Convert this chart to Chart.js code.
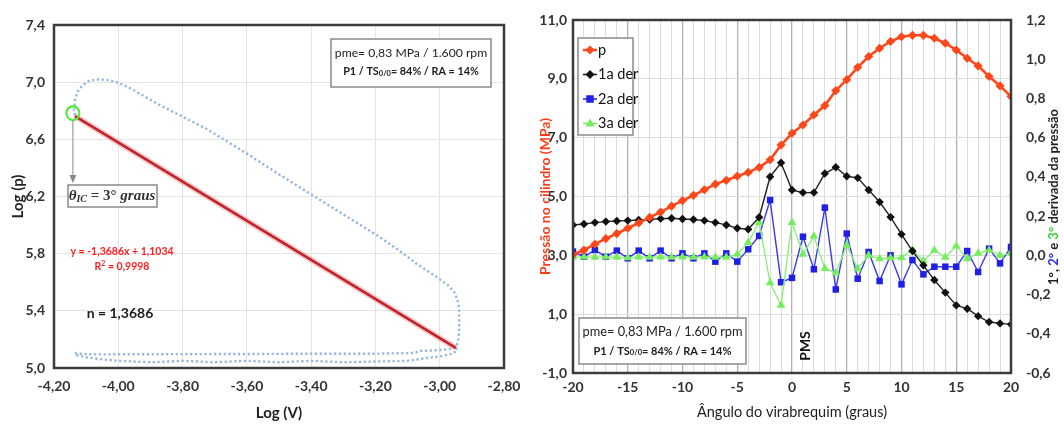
<!DOCTYPE html>
<html>
<head>
<meta charset="utf-8">
<script src="https://cdn.jsdelivr.net/npm/chart.js@4.4.1/dist/chart.umd.min.js"></script>
<style>
  html, body { margin: 0; padding: 0; background: #fff; }
  #wrap { position: relative; width: 1064px; height: 425px; }
  #left { position: absolute; left: 0; top: 0; }
  #right { position: absolute; left: 530px; top: 0; }
</style>
</head>
<body>
<div id="wrap">
  <canvas id="left" width="530" height="425"></canvas>
  <canvas id="right" width="534" height="425"></canvas>
</div>
<script>
// ---- left panel: log p x log V loop ----
const loopLogV = [-2.95, -3.3, -3.7, -4.1, -4.135,
  -4.137, -4.135, -4.128, -4.112, -4.092, -4.067, -4.036, -4.005, -3.969, -3.928, -3.877, -3.826, -3.774, -3.723,
  -3.6, -3.5, -3.4, -3.3, -3.196, -3.134, -3.072, -3.01, -2.974, -2.955, -2.945, -2.94, -2.939, -2.94, -2.943, -2.948,
  -2.96, -3.0, -3.06, -3.08, -3.2, -3.4, -3.6, -3.8, -4.0, -4.08, -4.12, -4.135,
  -4.13, -4.1, -4.05, -4.0, -3.9, -3.8, -3.7, -3.6, -3.5, -3.4, -3.3, -3.2, -3.1, -3.04, -3.0, -2.96, -2.945, -2.95];
const loopLogP = [5.142, 5.62, 6.17, 6.715, 6.765,
  6.80, 6.87, 6.93, 6.976, 7.007, 7.019, 7.016, 7.0, 6.965, 6.913, 6.847, 6.788, 6.729, 6.67,
  6.50, 6.355, 6.215, 6.075, 5.93, 5.835, 5.73, 5.637, 5.58, 5.53, 5.48, 5.42, 5.335, 5.25, 5.19, 5.15,
  5.135, 5.125, 5.12, 5.105, 5.10, 5.10, 5.098, 5.097, 5.096, 5.095, 5.10, 5.105,
  5.09, 5.075, 5.06, 5.05, 5.04, 5.05, 5.04, 5.05, 5.04, 5.05, 5.04, 5.045, 5.05, 5.07, 5.08, 5.10, 5.125, 5.142];
// linear fit of the compression (y = -1,3686x + 1,1034)
const fitLogV = [-4.135, -2.95];
const fitLogP = [6.762, 5.141];

// ---- right panel: pressure and derivatives x crank angle ----
const angles = [-20, -19, -18, -17, -16, -15, -14, -13, -12, -11, -10, -9, -8, -7, -6, -5, -4, -3, -2, -1, 0,
  1, 2, 3, 4, 5, 6, 7, 8, 9, 10, 11, 12, 13, 14, 15, 16, 17, 18, 19, 20];
const pressure = [3.02, 3.18, 3.38, 3.57, 3.74, 3.92, 4.10, 4.29, 4.47, 4.67, 4.86, 5.04, 5.23, 5.42, 5.55, 5.69, 5.82, 5.99, 6.25, 6.75, 7.15,
  7.43, 7.77, 8.09, 8.60, 8.97, 9.39, 9.76, 10.04, 10.27, 10.43, 10.48, 10.48, 10.38, 10.21, 9.98, 9.70, 9.44, 9.08, 8.76, 8.40];
const der1 = [0.155, 0.160, 0.167, 0.172, 0.175, 0.177, 0.180, 0.183, 0.187, 0.189, 0.185, 0.183, 0.177, 0.167, 0.155, 0.138, 0.133, 0.194, 0.401, 0.472, 0.333,
  0.320, 0.320, 0.417, 0.449, 0.403, 0.395, 0.333, 0.272, 0.195, 0.107, 0.022, -0.051, -0.126, -0.190, -0.255, -0.272, -0.310, -0.340, -0.347, -0.352];
const der2 = [0.019, -0.007, 0.027, -0.007, 0.024, -0.015, 0.024, -0.015, 0.024, -0.015, 0.010, -0.015, 0.010, -0.032, 0.010, -0.032, 0.031, 0.099, 0.282, -0.137, -0.115,
  0.095, -0.071, 0.243, -0.174, 0.111, -0.119, 0.017, -0.131, 0.000, -0.148, -0.024, -0.097, -0.058, -0.058, -0.058, 0.022, -0.085, 0.034, -0.041, 0.043];
const der3 = [-0.010, -0.008, -0.010, -0.008, -0.010, -0.012, -0.008, -0.010, -0.008, -0.010, -0.008, -0.010, -0.008, -0.010, -0.010, 0.005, 0.065, 0.168, -0.140, -0.255, 0.167,
  0.005, 0.097, -0.067, -0.089, 0.051, -0.068, 0.000, -0.017, -0.012, -0.012, 0.029, -0.029, 0.026, -0.010, 0.048, -0.018, 0.010, 0.026, 0.000, 0.010];

const seriesNames = ['p', '1a der', '2a der', '3a der'];
const seriesColors = ['#ff4719', '#111111', '#1f1fe6', '#74ec5e'];

const TICK_FONT = { family: 'Lato', size: 14, weight: 'bold' };
const comma = (v, d) => (Math.abs(v) < 1e-9 ? 0 : v).toFixed(d).replace('.', ',');
const xy = (xs, ys) => xs.map((x, i) => ({ x: x, y: ys[i] }));

function drawParts(ctx, parts, cx, cy) {
  let w = 0;
  parts.forEach(p => { ctx.font = p.font; w += ctx.measureText(p.text).width; });
  let x = cx - w / 2;
  ctx.textAlign = 'left';
  ctx.textBaseline = 'middle';
  parts.forEach(p => {
    ctx.font = p.font;
    ctx.fillStyle = p.color || '#111';
    ctx.fillText(p.text, x, cy + (p.dy || 0));
    x += ctx.measureText(p.text).width;
  });
}

function infoBox(ctx, x, y, w, h, size, size2) {
  ctx.fillStyle = '#fff';
  ctx.fillRect(x, y, w, h);
  ctx.strokeStyle = '#8a8a8a';
  ctx.lineWidth = 1.5;
  ctx.strokeRect(x, y, w, h);
  const cx = x + w / 2;
  drawParts(ctx, [{ text: 'pme= 0,83 MPa / 1.600 rpm', font: size + 'px Lato', color: '#222' }], cx, y + 14);
  drawParts(ctx, [
    { text: 'P1 / TS', font: 'bold ' + size2 + 'px Lato', color: '#222' },
    { text: '0/0', font: 'bold 7.5px Lato', dy: 2, color: '#222' },
    { text: '= 84% / RA = 14%', font: 'bold ' + size2 + 'px Lato', color: '#222' }
  ], cx, y + 33);
}

function marker(ctx, style, x, y, r) {
  ctx.beginPath();
  if (style === 'rectRot') {
    ctx.moveTo(x, y - r); ctx.lineTo(x + r, y); ctx.lineTo(x, y + r); ctx.lineTo(x - r, y);
  } else if (style === 'rect') {
    ctx.rect(x - r * 0.75, y - r * 0.75, r * 1.5, r * 1.5);
  } else {
    ctx.moveTo(x, y - r); ctx.lineTo(x + r * 0.9, y + r * 0.6); ctx.lineTo(x - r * 0.9, y + r * 0.6);
  }
  ctx.closePath();
  ctx.fill();
}

// ---------------- left chart ----------------
const leftExtras = {
  id: 'leftExtras',
  afterDraw(chart) {
    const { ctx, chartArea: a, scales } = chart;
    ctx.save();
    ctx.strokeStyle = '#3c3c3c';
    ctx.lineWidth = 2.5;
    ctx.strokeRect(a.left, a.top, a.right - a.left, a.bottom - a.top);

    infoBox(ctx, 331, 39, 160, 48, 12.2, 10.8);

    // ignition point marker and arrow
    const gx = scales.x.getPixelForValue(fitLogV[0]);
    const gy = scales.y.getPixelForValue(fitLogP[0]);
    ctx.strokeStyle = '#45ee2a';
    ctx.lineWidth = 2;
    ctx.beginPath();
    ctx.ellipse(gx - 2, gy - 3, 6.5, 7, 0, 0, Math.PI * 2);
    ctx.stroke();
    ctx.strokeStyle = '#8a8a8a';
    ctx.fillStyle = '#8a8a8a';
    ctx.lineWidth = 1;
    ctx.beginPath();
    ctx.moveTo(gx - 2, gy + 4);
    ctx.lineTo(gx - 2, 180);
    ctx.stroke();
    ctx.beginPath();
    ctx.moveTo(gx - 2, 183); ctx.lineTo(gx - 5.5, 175); ctx.lineTo(gx + 1.5, 175);
    ctx.closePath();
    ctx.fill();

    ctx.fillStyle = '#fff';
    ctx.fillRect(68, 185, 89, 22);
    ctx.strokeStyle = '#8a8a8a';
    ctx.lineWidth = 1.5;
    ctx.strokeRect(68, 185, 89, 22);
    drawParts(ctx, [
      { text: 'θ', font: 'italic bold 15px "Liberation Serif"', color: '#333' },
      { text: 'IC', font: 'italic bold 10px "Liberation Serif"', dy: 3, color: '#333' },
      { text: ' = 3° ', font: 'bold 15px "Liberation Serif"', color: '#333' },
      { text: 'graus', font: 'italic bold 15px "Liberation Serif"', color: '#333' }
    ], 112, 196);

    drawParts(ctx, [{ text: 'y = -1,3686x + 1,1034', font: 'bold 10.5px Lato', color: '#ff1f1f' }], 122, 252);
    drawParts(ctx, [
      { text: 'R', font: 'bold 10.5px Lato', color: '#ff1f1f' },
      { text: '2', font: 'bold 7px Lato', dy: -3, color: '#ff1f1f' },
      { text: ' = 0,9998', font: 'bold 10.5px Lato', color: '#ff1f1f' }
    ], 122, 267);
    drawParts(ctx, [{ text: 'n = 1,3686', font: 'bold 14px Lato', color: '#1a1a1a' }], 120, 313);
    ctx.restore();
  }
};

new Chart(document.getElementById('left'), {
  type: 'scatter',
  data: {
    datasets: [
      {
        data: xy(fitLogV, fitLogP),
        showLine: true,
        borderColor: '#c4232b',
        borderWidth: 2.6,
        pointRadius: 0
      },
      {
        data: xy(fitLogV, fitLogP),
        showLine: true,
        borderColor: 'rgba(230, 110, 110, 0.35)',
        borderWidth: 6,
        pointRadius: 0
      },
      {
        data: xy(loopLogV, loopLogP),
        showLine: true,
        borderColor: '#94b6e2',
        borderWidth: 2.4,
        borderDash: [2.2, 2.6],
        pointRadius: 0,
        tension: 0
      }
    ]
  },
  options: {
    responsive: false,
    animation: false,
    events: [],
    layout: { padding: { top: 25, right: 26, left: 0, bottom: 0 } },
    plugins: { legend: { display: false }, tooltip: { enabled: false } },
    scales: {
      x: {
        type: 'linear',
        min: -4.2, max: -2.8,
        border: { display: false },
        grid: { color: '#e4e4e4', drawTicks: false },
        ticks: { stepSize: 0.2, padding: 10, color: '#333', font: TICK_FONT, maxRotation: 0,
          callback: v => comma(v, 2) },
        title: { display: true, text: 'Log (V)', color: '#222',
          font: { family: 'Lato', size: 15, weight: 'bold' }, padding: { top: 0, bottom: 3 } },
        afterFit(s) { s.height = 57; s.paddingLeft = 0; s.paddingRight = 0; }
      },
      y: {
        min: 5.0, max: 7.4,
        border: { display: false },
        grid: { color: '#e4e4e4', drawTicks: false },
        ticks: { stepSize: 0.4, padding: 9, color: '#333', font: TICK_FONT,
          callback: v => comma(v, 1) },
        title: { display: true, text: 'Log (p)', color: '#222',
          font: { family: 'Lato', size: 15, weight: 'bold' }, padding: { top: 9, bottom: 0 } },
        afterFit(s) { s.width = 54; s.paddingTop = 0; s.paddingBottom = 0; }
      }
    }
  },
  plugins: [leftExtras]
});

// ---------------- right chart ----------------
const pointStyles = ['rectRot', 'rectRot', 'rect', 'triangle'];

const rightExtras = {
  id: 'rightExtras',
  afterDraw(chart) {
    const { ctx, chartArea: a } = chart;
    ctx.save();
    ctx.strokeStyle = '#3c3c3c';
    ctx.lineWidth = 2.5;
    ctx.strokeRect(a.left, a.top, a.right - a.left, a.bottom - a.top);

    // legend
    ctx.fillStyle = '#fff';
    ctx.fillRect(48, 38, 55, 97);
    ctx.strokeStyle = '#8a8a8a';
    ctx.lineWidth = 1.5;
    ctx.strokeRect(48, 38, 55, 97);
    seriesNames.forEach((name, i) => {
      const y = 50 + i * 24.5;
      ctx.strokeStyle = seriesColors[i];
      ctx.lineWidth = i === 0 ? 2.5 : 1.5;
      ctx.beginPath();
      ctx.moveTo(53, y); ctx.lineTo(67, y);
      ctx.stroke();
      ctx.fillStyle = seriesColors[i];
      marker(ctx, pointStyles[i], 60, y, i < 2 ? 4.5 : 5);
      ctx.font = '14.5px Lato';
      drawParts(ctx, [{ text: name, font: '14.5px Lato', color: '#111' }], 68 + ctx.measureText(name).width / 2, y);
    });

    infoBox(ctx, 49, 318, 167, 46, 12.8, 11);

    // PMS mark
    ctx.translate(275, 346);
    ctx.rotate(-Math.PI / 2);
    drawParts(ctx, [{ text: 'PMS', font: 'bold 14px Lato', color: '#111' }], 0, 0);
    ctx.setTransform(1, 0, 0, 1, 0, 0);

    // right axis title in several colours
    ctx.translate(524, 197);
    ctx.rotate(-Math.PI / 2);
    const f = 'bold 13px Lato';
    drawParts(ctx, [
      { text: '1°, ', font: f, color: '#222' },
      { text: '2°', font: f, color: '#2a2ae0' },
      { text: ' e ', font: f, color: '#222' },
      { text: '3°', font: f, color: '#3ccf3c' },
      { text: ' derivada da pressão', font: f, color: '#222' }
    ], 0, 0);
    ctx.restore();
  }
};

const derivSets = [der1, der2, der3].map((vals, k) => {
  const i = k + 1;
  return {
    label: seriesNames[i],
    data: vals,
    yAxisID: 'y2',
    borderColor: i === 3 ? '#8ef07e' : (i === 2 ? '#3a3ae8' : '#222'),
    backgroundColor: seriesColors[i],
    borderWidth: 1.4,
    pointStyle: pointStyles[i],
    pointRadius: i === 3 ? 5 : (i === 2 ? 4.6 : 4.2),
    pointBorderWidth: 0,
    tension: 0
  };
});

new Chart(document.getElementById('right'), {
  type: 'line',
  data: {
    labels: angles,
    datasets: [
      {
        label: seriesNames[0],
        data: pressure,
        yAxisID: 'y',
        borderColor: seriesColors[0],
        backgroundColor: seriesColors[0],
        borderWidth: 2.6,
        pointStyle: 'rectRot',
        pointRadius: 4.6,
        pointBorderWidth: 0
      },
      derivSets[0], derivSets[2], derivSets[1]
    ].map(d => Object.assign(d, { data: d.data.map((v, j) => ({ x: angles[j], y: v })) }))
  },
  options: {
    responsive: false,
    animation: false,
    events: [],
    layout: { padding: { top: 20, right: 0, left: 0, bottom: 0 } },
    plugins: { legend: { display: false }, tooltip: { enabled: false } },
    scales: {
      x: {
        type: 'linear',
        min: -20, max: 20,
        border: { display: false },
        grid: {
          drawTicks: false,
          color: c => (c.tick && c.tick.value % 5 === 0) ? '#b2b2b2' : '#dcdcdc',
          lineWidth: c => (c.tick && c.tick.value % 5 === 0) ? 1.3 : 1
        },
        ticks: { stepSize: 1, autoSkip: false, maxRotation: 0, padding: 6, color: '#333', font: TICK_FONT,
          callback: v => (v % 5 === 0 ? String(v) : '') },
        title: { display: true, text: 'Ângulo do virabrequim (graus)', color: '#222',
          font: { family: 'Lato', size: 14.5 }, padding: { top: 0, bottom: 4 } },
        afterFit(s) { s.height = 52; s.paddingLeft = 0; s.paddingRight = 0; }
      },
      y: {
        position: 'left',
        min: -1, max: 11,
        border: { display: false },
        grid: { color: '#dedede', drawTicks: false },
        ticks: { stepSize: 2, padding: 6, color: '#333', font: TICK_FONT,
          callback: v => comma(v, 1) },
        title: { display: true, text: 'Pressão no cilindro (MPa)', color: '#ff3d1a',
          font: { family: 'Lato', size: 14, weight: 'bold' }, padding: { top: 7, bottom: 0 } },
        afterFit(s) { s.width = 43; s.paddingTop = 0; s.paddingBottom = 0; }
      },
      y2: {
        position: 'right',
        min: -0.6, max: 1.2,
        border: { display: false },
        grid: { display: false },
        ticks: { stepSize: 0.2, padding: 7, color: '#333', font: TICK_FONT,
          callback: v => comma(v, 1) },
        afterFit(s) { s.width = 53; s.paddingTop = 0; s.paddingBottom = 0; }
      }
    }
  },
  plugins: [rightExtras]
});
</script>
</body>
</html>
